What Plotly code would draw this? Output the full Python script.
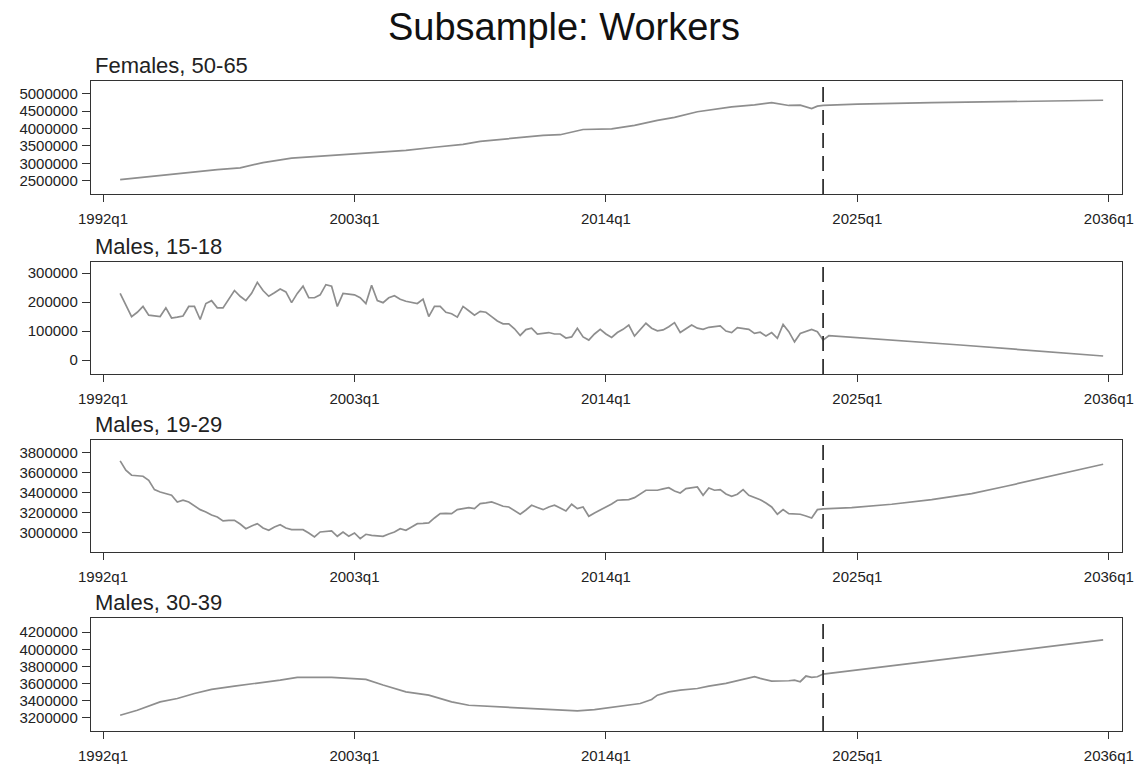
import plotly.graph_objects as go

# ---------------- data ----------------
title_text = "Subsample: Workers"
panel_titles = ["Females, 50-65", "Males, 15-18", "Males, 19-29", "Males, 30-39"]
x_tick_labels = ["1992q1", "2003q1", "2014q1", "2025q1", "2036q1"]
forecast_start = "2023q3"

# Females 50-65 (observed, selected quarters)
fem5065_q = ["1992q4", "1994q1", "1995q3", "1997q1", "1998q1", "1999q1", "2000q2", "2001q3",
             "2003q1", "2005q2", "2006q3", "2007q4", "2008q3", "2010q1", "2011q2", "2012q1",
             "2013q1", "2014q2", "2015q2", "2016q2", "2017q1", "2018q1", "2019q3", "2020q3",
             "2021q2", "2022q1", "2022q3", "2023q1", "2023q2"]
fem5065_v = [2530000, 2620000, 2720000, 2820000, 2870000, 3020000, 3150000, 3200000,
             3270000, 3370000, 3460000, 3540000, 3630000, 3730000, 3800000, 3820000,
             3970000, 3990000, 4090000, 4230000, 4320000, 4480000, 4620000, 4680000,
             4740000, 4660000, 4670000, 4570000, 4640000]
fem5065_fq = ["2023q3", "2025q1", "2028q2", "2032q1", "2035q4"]
fem5065_fv = [4660000, 4700000, 4740000, 4780000, 4810000]

# Males 15-18 (observed, every quarter from 1992q4)
m1518_start = "1992q4"
m1518_v = [230000, 190000, 150000, 165000, 185000, 155000, 152000, 150000, 180000, 145000,
           148000, 152000, 185000, 185000, 140000, 195000, 205000, 180000, 180000, 210000,
           240000, 220000, 205000, 230000, 268000, 240000, 220000, 232000, 245000, 235000,
           198000, 230000, 255000, 215000, 215000, 225000, 260000, 255000, 185000, 230000,
           228000, 225000, 215000, 195000, 258000, 205000, 198000, 215000, 222000, 210000,
           203000, 198000, 195000, 210000, 150000, 185000, 185000, 165000, 160000, 148000,
           185000, 170000, 155000, 168000, 165000, 150000, 135000, 125000, 125000, 108000,
           85000, 105000, 110000, 90000, 92000, 95000, 90000, 90000, 76000, 80000,
           110000, 80000, 69000, 90000, 106000, 90000, 78000, 95000, 106000, 121000,
           83000, 105000, 127000, 110000, 101000, 104000, 115000, 129000, 95000, 108000,
           121000, 110000, 106000, 113000, 116000, 118000, 100000, 95000, 112000, 108000,
           106000, 92000, 96000, 83000, 95000, 75000, 123000, 98000, 63000, 92000,
           98000, 106000, 98000, 69000]
m1518_fq = ["2023q4", "2029q3", "2035q4"]
m1518_fv = [84000, 52000, 14000]

# Males 19-29 (observed, every quarter from 1992q4)
m1929_start = "1992q4"
m1929_v = [3720000, 3627000, 3577000, 3570000, 3567000, 3527000, 3433000, 3410000, 3395000, 3377000,
           3310000, 3327000, 3310000, 3270000, 3233000, 3210000, 3180000, 3160000, 3120000, 3125000,
           3127000, 3090000, 3043000, 3070000, 3093000, 3050000, 3027000, 3060000, 3083000, 3050000,
           3033000, 3035000, 3033000, 3000000, 2960000, 3010000, 3015000, 3020000, 2967000, 3010000,
           2967000, 3000000, 2943000, 2987000, 2977000, 2975000, 2967000, 2990000, 3010000, 3043000,
           3027000, 3060000, 3093000, 3095000, 3100000, 3150000, 3193000, 3195000, 3193000, 3233000,
           3240000, 3253000, 3243000, 3293000, 3300000, 3310000, 3290000, 3267000, 3260000, 3225000,
           3187000, 3230000, 3277000, 3255000, 3233000, 3260000, 3277000, 3250000, 3220000, 3287000,
           3243000, 3260000, 3167000, 3200000, 3227000, 3260000, 3290000, 3327000, 3330000, 3333000,
           3353000, 3390000, 3427000, 3427000, 3427000, 3440000, 3453000, 3420000, 3400000, 3443000,
           3450000, 3460000, 3377000, 3450000, 3427000, 3433000, 3390000, 3367000, 3387000, 3433000,
           3377000, 3355000, 3333000, 3300000, 3260000, 3187000, 3233000, 3193000, 3190000, 3187000,
           3170000, 3150000, 3233000]
m1929_fq = ["2023q3", "2024q4", "2026q3", "2028q2", "2030q1", "2031q3", "2033q2", "2034q4", "2035q4"]
m1929_fv = [3240000, 3253000, 3287000, 3333000, 3393000, 3467000, 3560000, 3637000, 3687000]

# Males 30-39 (observed, selected quarters)
m3039_q = ["1992q4", "1993q3", "1994q3", "1995q2", "1996q1", "1996q4", "1997q4", "1998q4",
           "1999q4", "2000q3", "2001q2", "2002q1", "2002q4", "2003q3", "2004q2", "2004q4",
           "2005q2", "2006q2", "2007q2", "2008q1", "2008q4", "2009q4", "2010q4", "2011q4",
           "2012q4", "2013q3", "2014q3", "2015q1", "2015q3", "2016q1", "2016q2", "2016q4",
           "2017q2", "2018q1", "2018q3", "2019q2", "2019q4", "2020q3", "2020q4", "2021q2",
           "2022q1", "2022q2", "2022q3", "2022q4", "2023q1", "2023q2"]
m3039_v = [3231000, 3290000, 3387000, 3426000, 3485000, 3532000, 3571000, 3602000,
           3641000, 3672000, 3672000, 3672000, 3661000, 3649000, 3583000, 3543000,
           3504000, 3465000, 3387000, 3348000, 3337000, 3321000, 3309000, 3290000,
           3282000, 3298000, 3329000, 3348000, 3368000, 3415000, 3465000, 3504000,
           3524000, 3543000, 3571000, 3602000, 3633000, 3680000, 3661000, 3629000,
           3633000, 3641000, 3622000, 3688000, 3672000, 3680000]
m3039_fq = ["2023q3", "2035q4"]
m3039_fv = [3711000, 4109000]

y_ticks = [
    [2500000, 3000000, 3500000, 4000000, 4500000, 5000000],
    [0, 100000, 200000, 300000],
    [3000000, 3200000, 3400000, 3600000, 3800000],
    [3200000, 3400000, 3600000, 3800000, 4000000, 4200000],
]
y_ranges = [[2117000, 5363000], [-48000, 340000], [2810000, 3934000], [3048000, 4364000]]


# ---------------- helpers ----------------
def qidx(label):
    y, q = label.split("q")
    return (int(y) - 1992) * 4 + int(q) - 1


def consecutive(start, n):
    s = qidx(start)
    return [s + i for i in range(n)]


series = [
    ([qidx(q) for q in fem5065_q] + [qidx(q) for q in fem5065_fq], fem5065_v + fem5065_fv),
    (consecutive(m1518_start, len(m1518_v)) + [qidx(q) for q in m1518_fq], m1518_v + m1518_fv),
    (consecutive(m1929_start, len(m1929_v)) + [qidx(q) for q in m1929_fq], m1929_v + m1929_fv),
    ([qidx(q) for q in m3039_q] + [qidx(q) for q in m3039_fq], m3039_v + m3039_fv),
]

W, H = 1145, 767
L, R = 91, 1122
boxes = [(81, 194), (261.5, 374), (439.5, 552), (618, 731)]

FONT = "Liberation Sans, Arial, sans-serif"
TXT = "#222222"
FRAME = "#333333"

fig = go.Figure()
annotations = []
shapes = []
x_range = [-2.1, 178.3]

for i, ((xs, ys), (top, bot)) in enumerate(zip(series, boxes)):
    n = "" if i == 0 else str(i + 1)
    fig.add_trace(go.Scatter(x=xs, y=ys, mode="lines",
                             line=dict(color="#8e8e8e", width=1.7),
                             xaxis="x" + n, yaxis="y" + n, showlegend=False,
                             hoverinfo="skip"))
    dom = [1 - bot / H, 1 - top / H]
    common = dict(showline=True, linecolor=FRAME, linewidth=1.4, mirror=True,
                  showgrid=False, zeroline=False, ticks="outside",
                  tickcolor=FRAME, tickwidth=1.2,
                  tickfont=dict(family=FONT, size=15, color=TXT))
    fig.update_layout(**{
        "xaxis" + n: dict(domain=[0, 1], anchor="y" + n, range=x_range,
                          tickvals=[qidx(t) for t in x_tick_labels],
                          ticktext=x_tick_labels, ticklen=7,
                          ticklabelstandoff=4, **common),
        "yaxis" + n: dict(domain=dom, anchor="x" + n, range=y_ranges[i],
                          tickvals=y_ticks[i], ticktext=[str(v) for v in y_ticks[i]],
                          ticklen=8, ticklabelstandoff=1, **common),
    })
    shapes.append(dict(type="line", xref="x" + n, yref="y" + n + " domain",
                       x0=qidx(forecast_start), x1=qidx(forecast_start), y0=0, y1=1,
                       line=dict(color="#333333", width=1.8, dash="15px,8px")))
    annotations.append(dict(text=panel_titles[i], xref="paper", yref="paper",
                            x=0.002, y=dom[1], xanchor="left", yanchor="bottom",
                            yshift=1, showarrow=False,
                            font=dict(family=FONT, size=22, color=TXT)))

annotations.append(dict(text=title_text, xref="paper", yref="paper",
                        x=(564 - L) / (R - L), y=1 - 27 / H, xanchor="center",
                        yanchor="middle", showarrow=False,
                        font=dict(family=FONT, size=38, color="#111111")))

fig.update_layout(width=W, height=H, margin=dict(l=L, r=W - R, t=0, b=0),
                  paper_bgcolor="white", plot_bgcolor="white",
                  annotations=annotations, shapes=shapes)

fig.write_html("out.html")
